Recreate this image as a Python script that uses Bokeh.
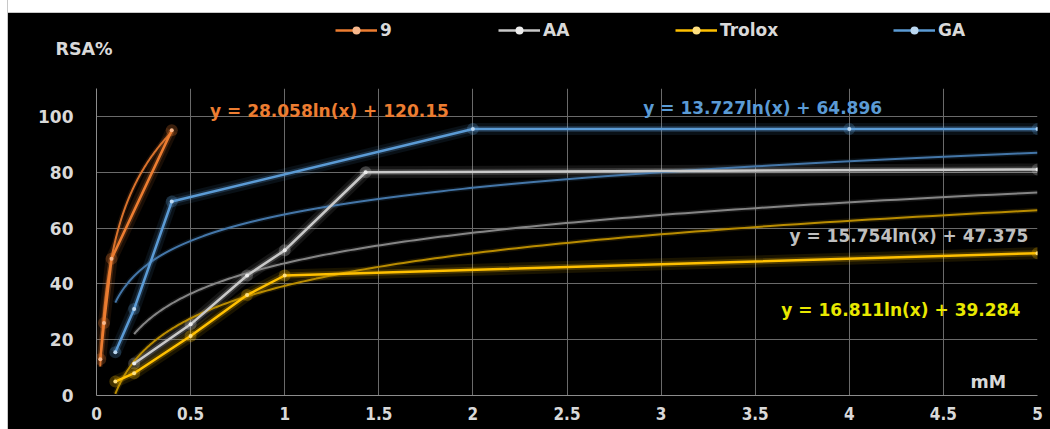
import numpy as np
from bokeh.plotting import figure
from bokeh.models import (Range1d, Legend, LegendItem, Label, FixedTicker, Spacer)
from bokeh.layouts import row, column
from bokeh.embed import file_html
from bokeh.resources import INLINE

# ---------------- data ----------------
series_names = ["9", "AA", "Trolox", "GA"]

x_9 = [0.02, 0.04, 0.08, 0.4]
y_9 = [13, 26, 49, 95]

x_aa = [0.2, 0.5, 0.8, 1.0, 1.43, 5.0]
y_aa = [11.5, 25.5, 43, 52, 80, 81]

x_trolox = [0.1, 0.2, 0.5, 0.8, 1.0, 5.0]
y_trolox = [5, 8, 21.3, 36, 43, 51]

x_ga = [0.1, 0.2, 0.4, 2.0, 4.0, 5.0]
y_ga = [15.5, 31, 69.5, 95.5, 95.5, 95.5]

# logarithmic trendlines y = a*ln(x) + b (coefficients printed on the chart)
trend_a = [28.058, 15.754, 16.811, 13.727]
trend_b = [120.15, 47.375, 39.284, 64.896]
trend_labels = ["y = 28.058ln(x) + 120.15", "y = 15.754ln(x) + 47.375",
                "y = 16.811ln(x) + 39.284", "y = 13.727ln(x) + 64.896"]

x_ticks = [0, 0.5, 1, 1.5, 2, 2.5, 3, 3.5, 4, 4.5, 5]
x_tick_labels = ["0", "0.5", "1", "1.5", "2", "2.5", "3", "3.5", "4", "4.5", "5"]
y_ticks = [0, 20, 40, 60, 80, 100]
y_tick_labels = ["0", "20", "40", "60", "80", "100"]

# ---------------- style ----------------
FONT = "DejaVu Sans"
TXT = "#D9D9D9"
line_colors = ["#ED7D31", "#C9C9C9", "#FFC000", "#5B9BD5"]
marker_colors = ["#F8B88C", "#EDEDED", "#FFE080", "#BBD7F0"]
trend_colors = ["#D9722C", "#858585", "#B98C00", "#4476A8"]
eq_colors = ["#ED7D31", "#BFBFBF", "#E8E800", "#5B9BD5"]
eq_pos = [(0.603, 101.8), (3.682, 57.3), (3.639, 30.5), (2.905, 102.9)]
legend_x = [327, 490, 667, 885]   # header pixels (left of each legend glyph)

# ---------------- header (legend + y title) ----------------
h = figure(width=1042, height=75, output_backend="svg", toolbar_location=None,
           x_range=Range1d(0, 1042), y_range=Range1d(0, 75),
           min_border=0, x_axis_type=None, y_axis_type=None)
h.background_fill_color = "black"
h.border_fill_color = "black"
h.outline_line_color = None
h.grid.visible = False

for i in range(4):
    lr = h.line([np.nan, np.nan], [np.nan, np.nan], line_color=line_colors[i],
                line_width=2.5)
    mr = h.scatter([np.nan], [np.nan], size=4, fill_color=marker_colors[i],
                   line_color=None)
    lg = Legend(items=[LegendItem(label=series_names[i], renderers=[lr, mr])],
                location=(legend_x[i], 48), background_fill_alpha=0,
                border_line_color=None, padding=0, margin=0, glyph_width=42,
                glyph_height=20, label_height=20, label_width=0,
                label_standoff=3, label_text_color=TXT, label_text_font=FONT,
                label_text_font_style="bold", label_text_font_size="17px")
    h.add_layout(lg)

h.add_layout(Label(x=47, y=40, text="RSA%", text_color=TXT, text_font=FONT,
                   text_font_style="bold", text_font_size="17.5px",
                   text_baseline="middle"))

# ---------------- main chart ----------------
p = figure(width=1042, height=341, output_backend="svg", toolbar_location=None,
           x_range=Range1d(0, 5), y_range=Range1d(0, 110),
           min_border_left=88, min_border_right=13, min_border_top=0,
           min_border_bottom=34)
p.background_fill_color = "black"
p.border_fill_color = "black"
p.outline_line_color = None

for ax in (p.xaxis[0], p.yaxis[0]):
    ax.major_tick_line_color = None
    ax.minor_tick_line_color = None
    ax.major_tick_out = 0
    ax.major_tick_in = 0
    ax.minor_tick_out = 0
    ax.major_label_text_color = TXT
    ax.major_label_text_font = FONT
    ax.major_label_text_font_style = "bold"
    ax.major_label_text_font_size = "17px"
    ax.axis_line_color = "#8C8C8C"
p.xaxis.ticker = FixedTicker(ticks=x_ticks)
p.yaxis.ticker = FixedTicker(ticks=y_ticks)

def _key(v):
    return int(v) if float(v).is_integer() else v

p.xaxis.major_label_overrides = {_key(v): s for v, s in zip(x_ticks, x_tick_labels)}
p.yaxis.major_label_overrides = {_key(v): s for v, s in zip(y_ticks, y_tick_labels)}
p.xaxis.major_label_text_font = "Liberation Sans Narrow, DejaVu Sans Condensed, sans-serif"
p.xaxis.major_label_standoff = 11
p.yaxis.major_label_standoff = 23

p.xgrid.ticker = FixedTicker(ticks=x_ticks)
p.ygrid.ticker = FixedTicker(ticks=y_ticks)
p.xgrid.grid_line_color = "#6A6A6A"
p.ygrid.grid_line_color = "#6A6A6A"

xs = [x_9, x_aa, x_trolox, x_ga]
ys = [y_9, y_aa, y_trolox, y_ga]

# glow
for i in range(4):
    p.line(xs[i], ys[i], line_color=line_colors[i], line_width=12, line_alpha=0.10)
    p.line(xs[i], ys[i], line_color=line_colors[i], line_width=6, line_alpha=0.22)
    p.scatter(xs[i], ys[i], size=12, fill_color=line_colors[i], fill_alpha=0.25,
              line_color=None)

# trendlines
for i in range(4):
    tx = np.geomspace(min(xs[i]), max(xs[i]), 200)
    ty = trend_a[i] * np.log(tx) + trend_b[i]
    p.line(tx, ty, line_color=trend_colors[i], line_width=5, line_alpha=0.15)
    p.line(tx, ty, line_color=trend_colors[i], line_width=2)

# main series
for i in range(4):
    p.line(xs[i], ys[i], line_color=line_colors[i], line_width=2.5)
    p.scatter(xs[i], ys[i], size=4, fill_color=marker_colors[i], line_color=None)

# trendline equations
for i in range(4):
    p.add_layout(Label(x=eq_pos[i][0], y=eq_pos[i][1], text=trend_labels[i],
                       text_color=eq_colors[i], text_font=FONT,
                       text_font_style="bold", text_font_size="17px",
                       text_baseline="middle"))

p.add_layout(Label(x=4.644, y=5.0, text="mM", text_color=TXT, text_font=FONT,
                   text_font_style="bold", text_font_size="17.5px",
                   text_baseline="middle"))

inner = column(row(h), p, styles={"background-color": "black"})
layout = row(Spacer(width=7, height=429),
             Spacer(width=1, height=429, styles={"background-color": "#C8C8C8"}),
             column(Spacer(width=1042, height=12),
                    Spacer(width=1042, height=1, styles={"background-color": "#C8C8C8"}),
                    inner))
open("out.html", "w").write(file_html(layout, INLINE))
